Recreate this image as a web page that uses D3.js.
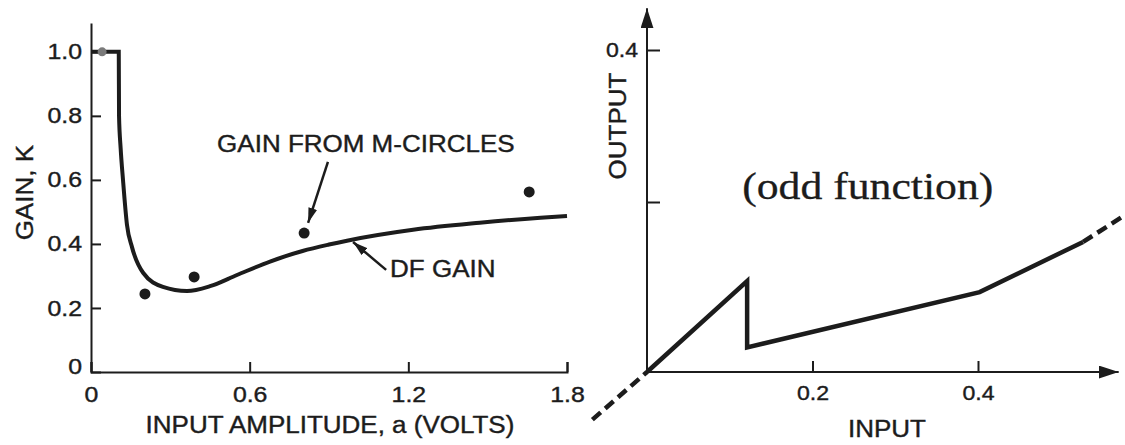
<!DOCTYPE html>
<html lang="en">
<head>
<meta charset="UTF-8">
<title>DF Gain</title>
<script src="https://cdnjs.cloudflare.com/ajax/libs/d3/7.8.5/d3.min.js"></script>
<style>
  body { margin: 0; background: #fff; }
  svg { display: block; }
  text { font-family: "Liberation Sans", Arial, sans-serif; fill: #1c1c1c; stroke: #1c1c1c; stroke-width: 0.4; }
  .serif { font-family: "Liberation Serif", "Times New Roman", serif; stroke-width: 0.3; }
  .axis path, .axis line { stroke: #1c1c1c; stroke-width: 2; }
</style>
</head>
<body>
<svg id="chart" width="1125" height="445"></svg>
<script>
// left panel: gain vs input amplitude
var dfAmp  = [0, 0.105, 0.106, 0.112, 0.121, 0.136, 0.155, 0.197, 0.272, 0.363, 0.45, 0.552, 0.677, 0.80, 0.90, 0.968, 1.218, 1.47, 1.70, 1.8];
var dfGain = [1.0, 1.0, 0.80, 0.70, 0.60, 0.46, 0.39, 0.31, 0.266, 0.253, 0.268, 0.303, 0.345, 0.378, 0.398, 0.41, 0.444, 0.466, 0.482, 0.4875];
var mAmp   = [0.042, 0.204, 0.39, 0.806, 1.657];
var mGain  = [1.0, 0.244, 0.297, 0.434, 0.5625];
var ampTicks  = [0, 0.6, 1.2, 1.8];
var gainTicks = [0, 0.2, 0.4, 0.6, 0.8, 1.0];

// right panel: the nonlinearity itself
var nlIn   = [0, 0.121, 0.121, 0.402, 0.527];
var nlOut  = [0, 0.107, 0.029, 0.094, 0.153];
var headIn = [-0.066, 0],     headOut = [-0.056, 0];
var tailIn = [0.527, 0.578],  tailOut = [0.153, 0.185];
var inTicks  = [0.2, 0.4];
var outTicks = [0.2, 0.4];

var STRETCH = 1.13; // the scan is a bit wide, stretch text to match

var svg = d3.select('#chart');
var ink = '#1c1c1c';

function stretch(sel, k) {
    sel.each(function () {
        var L = this.getComputedTextLength();
        this.setAttribute('textLength', L * (k || STRETCH));
        this.setAttribute('lengthAdjust', 'spacingAndGlyphs');
    });
}

// arrowheads
var defs = svg.append('defs');
function marker(id, len, wid) {
    defs.append('marker')
        .attr('id', id)
        .attr('viewBox', '0 0 ' + len + ' ' + wid)
        .attr('refX', len).attr('refY', wid / 2)
        .attr('markerWidth', len).attr('markerHeight', wid)
        .attr('markerUnits', 'userSpaceOnUse')
        .attr('orient', 'auto')
        .append('path')
        .attr('d', 'M0,0L' + len + ',' + (wid / 2) + 'L0,' + wid + 'Z')
        .attr('fill', ink);
}
marker('axisArrow', 20, 13);
marker('noteArrow', 15, 9);

/* ---------------- left panel ---------------- */
var xL = d3.scaleLinear().domain([0, 1.8]).range([91, 567]);
var yL = d3.scaleLinear().domain([0, 1.09]).range([372, 23]);

var fmt = function (d) { return d === 0 ? '0' : d3.format('.1f')(d); };

var gx = svg.append('g').attr('class', 'axis')
    .attr('transform', 'translate(0,' + yL(0) + ')')
    .call(d3.axisBottom(xL).tickValues(ampTicks).tickSizeInner(-10).tickSizeOuter(-10).tickPadding(14).tickFormat(fmt));
gx.attr('font-size', 22).attr('font-family', null);
gx.selectAll('text').attr('fill', ink).call(stretch);

var gy = svg.append('g').attr('class', 'axis')
    .attr('transform', 'translate(' + xL(0) + ',0)')
    .call(d3.axisLeft(yL).tickValues(gainTicks).tickSizeInner(-10).tickSizeOuter(0).tickPadding(9).tickFormat(fmt));
gy.attr('font-size', 22).attr('font-family', null);
gy.selectAll('text').attr('fill', ink).call(stretch);
gy.selectAll('.tick').filter(function (d) { return d === 0; }).select('text').attr('y', -6);

svg.append('text')
    .attr('x', (xL(0) + xL(1.8)) / 2 + 1).attr('y', 433)
    .attr('text-anchor', 'middle').attr('font-size', 23)
    .text('INPUT AMPLITUDE, a (VOLTS)').call(stretch);

svg.append('text')
    .attr('transform', 'translate(33,' + yL(0.56) + ') rotate(-90)')
    .attr('text-anchor', 'middle').attr('font-size', 23)
    .text('GAIN, K').call(stretch);

var lineL = d3.line()
    .x(function (d, i) { return xL(dfAmp[i]); })
    .y(function (d, i) { return yL(dfGain[i]); })
    .curve(d3.curveMonotoneX);

svg.append('path')
    .attr('d', lineL(dfAmp))
    .attr('fill', 'none').attr('stroke', ink).attr('stroke-width', 4);

svg.selectAll('.mdot').data(mAmp).enter().append('circle')
    .attr('class', 'mdot')
    .attr('cx', function (d) { return xL(d); })
    .attr('cy', function (d, i) { return yL(mGain[i]); })
    .attr('r', function (d, i) { return i === 0 ? 4.5 : 5.5; })
    .attr('fill', function (d, i) { return i === 0 ? '#7a7a7a' : ink; });

// annotations
var noteText = ['GAIN FROM M-CIRCLES', 'DF GAIN'];
var notePos  = [[0.477, 0.6875], [1.131, 0.297]];
var noteFrom = [[0.896, 0.656], [1.116, 0.319]];
var noteTo   = [[0.821, 0.466], [0.991, 0.406]];

noteText.forEach(function (t, i) {
    svg.append('text')
        .attr('x', xL(notePos[i][0])).attr('y', yL(notePos[i][1]))
        .attr('font-size', 23)
        .text(t).call(stretch);
    svg.append('line')
        .attr('x1', xL(noteFrom[i][0])).attr('y1', yL(noteFrom[i][1]))
        .attr('x2', xL(noteTo[i][0])).attr('y2', yL(noteTo[i][1]))
        .attr('stroke', ink).attr('stroke-width', 2.5)
        .attr('marker-end', 'url(#noteArrow)');
});

/* ---------------- right panel ---------------- */
var xR = d3.scaleLinear().domain([0, 0.57]).range([647, 647 + 0.57 * 827.5]);
var yR = d3.scaleLinear().domain([0, 0.2, 0.4]).range([372, 202, 50]);
var yRTop = 0.455;

var gxR = svg.append('g').attr('class', 'axis')
    .attr('transform', 'translate(0,' + yR(0) + ')')
    .call(d3.axisBottom(xR).tickValues(inTicks).tickSizeInner(-11).tickSizeOuter(0).tickPadding(13).tickFormat(d3.format('.1f')));
gxR.attr('font-size', 21).attr('font-family', null);
gxR.select('.domain').remove();
gxR.selectAll('text').attr('fill', ink).call(stretch, 1.1);

var gyR = svg.append('g').attr('class', 'axis')
    .attr('transform', 'translate(' + xR(0) + ',0)')
    .call(d3.axisLeft(yR).tickValues(outTicks).tickSizeInner(-13).tickSizeOuter(0).tickPadding(9)
        .tickFormat(function (d) { return d === 0.4 ? '0.4' : ''; }));
gyR.attr('font-size', 21).attr('font-family', null);
gyR.select('.domain').remove();
gyR.selectAll('text').filter(function (d) { return d === 0.4; }).attr('fill', ink).call(stretch, 1.1);

svg.append('line')
    .attr('x1', xR(0)).attr('y1', yR(0))
    .attr('x2', xR(0.57)).attr('y2', yR(0))
    .attr('stroke', ink).attr('stroke-width', 2)
    .attr('marker-end', 'url(#axisArrow)');
svg.append('line')
    .attr('x1', xR(0)).attr('y1', yR(0))
    .attr('x2', xR(0)).attr('y2', yR(yRTop))
    .attr('stroke', ink).attr('stroke-width', 2)
    .attr('marker-end', 'url(#axisArrow)');

svg.append('text')
    .attr('x', xR(0.29)).attr('y', 437)
    .attr('text-anchor', 'middle').attr('font-size', 23)
    .text('INPUT').call(stretch);

svg.append('text')
    .attr('transform', 'translate(626,' + yR(0.3) + ') rotate(-90)')
    .attr('text-anchor', 'middle').attr('font-size', 23)
    .text('OUTPUT').call(stretch);

svg.append('text')
    .attr('class', 'serif')
    .attr('x', xR(0.115)).attr('y', yR(0.2) - 3)
    .attr('font-size', 38)
    .text('(odd function)').call(stretch, 1.15);

var lineR = d3.line()
    .x(function (d) { return xR(d[0]); })
    .y(function (d) { return yR(d[1]); });

svg.append('path')
    .attr('d', lineR(nlIn.map(function (v, i) { return [v, nlOut[i]]; })))
    .attr('fill', 'none').attr('stroke', ink).attr('stroke-width', 4.5)
    .attr('stroke-linejoin', 'miter');

[[headIn, headOut], [tailIn, tailOut]].forEach(function (p) {
    svg.append('path')
        .attr('d', lineR(p[0].map(function (v, i) { return [v, p[1][i]]; })))
        .attr('fill', 'none').attr('stroke', ink).attr('stroke-width', 4.5)
        .attr('stroke-dasharray', '11,6');
});
</script>
</body>
</html>
